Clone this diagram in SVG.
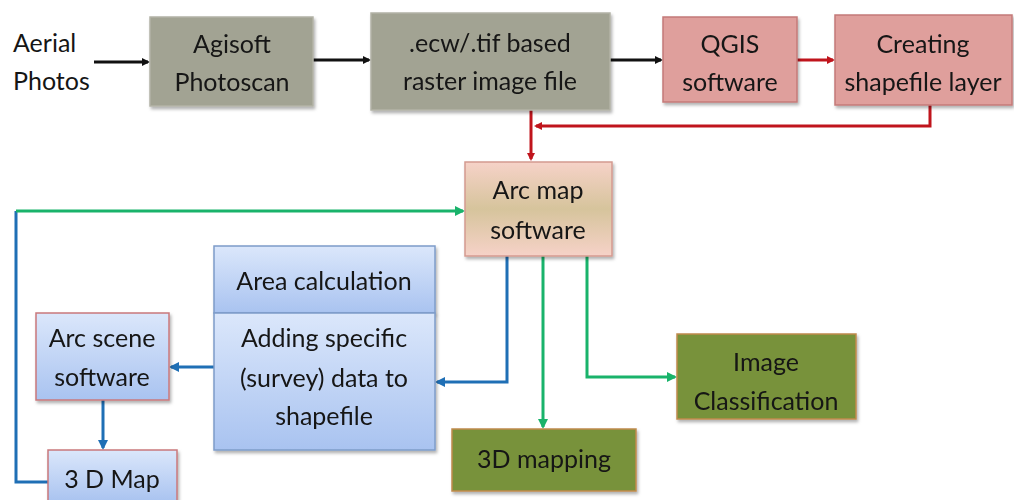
<svg xmlns="http://www.w3.org/2000/svg" width="1014" height="500" viewBox="0 0 1014 500">
<defs>
<style>
text{font-family:Lato,"Open Sans","Liberation Sans",sans-serif;font-size:25px;fill:#151515;text-anchor:middle}
.gray{fill:#a2a393;stroke:#b3b3a6;stroke-width:1.5}
.red{fill:#df9f9c;stroke:#c47a78;stroke-width:1.5}
.arc{fill:url(#gArc);stroke:#d49a90;stroke-width:1.5}
.blue{fill:url(#gBlue);stroke:#7e9cc9;stroke-width:1.5}
.bluer{fill:url(#gBlue);stroke:#c9787c;stroke-width:1.5}
.green{fill:#78923a;stroke:#c08a4c;stroke-width:1.5}
.k{stroke:#111;stroke-width:3;fill:none}
.r{stroke:#c0141c;stroke-width:3;fill:none}
.g{stroke:#19b36b;stroke-width:3;fill:none}
.b{stroke:#1f6fb5;stroke-width:3;fill:none}
</style>
<linearGradient id="gArc" x1="0" y1="0" x2="0" y2="1">
<stop offset="0" stop-color="#f6d2c8"/><stop offset="0.5" stop-color="#d6c49c"/><stop offset="1" stop-color="#f6d2c8"/>
</linearGradient>
<linearGradient id="gBlue" x1="0" y1="0" x2="0" y2="1">
<stop offset="0" stop-color="#dbe7fb"/><stop offset="1" stop-color="#a9c3f0"/>
</linearGradient>
<filter id="sh" x="-10%" y="-10%" width="130%" height="130%">
<feDropShadow dx="1.5" dy="2.5" stdDeviation="1.5" flood-color="#000" flood-opacity="0.3"/>
</filter>
<marker id="mk" markerWidth="8" markerHeight="8" refX="6" refY="4" orient="auto" markerUnits="userSpaceOnUse"><path d="M0,0 L8,4 L0,8 Z" fill="#111"/></marker>
<marker id="mr" markerWidth="8" markerHeight="8" refX="6" refY="4" orient="auto" markerUnits="userSpaceOnUse"><path d="M0,0 L8,4 L0,8 Z" fill="#c0141c"/></marker>
<marker id="mg" markerWidth="10" markerHeight="10" refX="8" refY="5" orient="auto" markerUnits="userSpaceOnUse"><path d="M0,0 L10,5 L0,10 Z" fill="#19b36b"/></marker>
<marker id="mb" markerWidth="10" markerHeight="10" refX="8" refY="5" orient="auto" markerUnits="userSpaceOnUse"><path d="M0,0 L10,5 L0,10 Z" fill="#1f6fb5"/></marker>
</defs>
<rect width="1014" height="500" fill="#fff"/>

<g id="connectors">
<path class="k" d="M94,62 H148" marker-end="url(#mk)"/>
<path class="k" d="M313,60 H369" marker-end="url(#mk)"/>
<path class="k" d="M610,60 H661" marker-end="url(#mk)"/>
<path class="r" d="M797,60 H833" marker-end="url(#mr)"/>
<path class="r" d="M930,105 V126 H536" marker-end="url(#mr)"/>
<path class="r" d="M531,110 V159" marker-end="url(#mr)"/>
<path class="b" d="M48,482 H16 V211"/>
<path class="g" d="M16,211 H463" marker-end="url(#mg)"/>
<path class="b" d="M507,256 V382 H437" marker-end="url(#mb)"/>
<path class="g" d="M543,256 V427" marker-end="url(#mg)"/>
<path class="g" d="M587,256 V377 H675" marker-end="url(#mg)"/>
<path class="b" d="M214,367 H171" marker-end="url(#mb)"/>
<path class="b" d="M103,400 V448" marker-end="url(#mb)"/>
</g>

<g id="aerial">
<text x="13" y="52" style="text-anchor:start">Aerial</text>
<text x="13" y="90" style="text-anchor:start">Photos</text>
</g>
<g id="agisoft" filter="url(#sh)">
<rect class="gray" x="150" y="17" width="163" height="89"/>
<text x="232" y="53">Agisoft</text>
<text x="232" y="91">Photoscan</text>
</g>
<g id="raster" filter="url(#sh)">
<rect class="gray" x="371" y="13" width="239" height="97"/>
<text x="490" y="52">.ecw/.tif based</text>
<text x="490" y="90">raster image file</text>
</g>
<g id="qgis" filter="url(#sh)">
<rect class="red" x="663" y="17" width="134" height="85"/>
<text x="730" y="53">QGIS</text>
<text x="730" y="91">software</text>
</g>
<g id="creating" filter="url(#sh)">
<rect class="red" x="835" y="15" width="177" height="90"/>
<text x="923" y="53">Creating</text>
<text x="923" y="91">shapefile layer</text>
</g>
<g id="arcmap" filter="url(#sh)">
<rect class="arc" x="465" y="162" width="147" height="94"/>
<text x="538" y="199">Arc map</text>
<text x="538" y="239">software</text>
</g>
<g id="area" filter="url(#sh)">
<rect class="blue" x="214" y="246" width="221" height="67"/>
<text x="324" y="290">Area calculation</text>
</g>
<g id="adding" filter="url(#sh)">
<rect class="blue" x="214" y="313" width="221" height="137"/>
<text x="324" y="347">Adding specific</text>
<text x="324" y="387">(survey) data to</text>
<text x="324" y="425">shapefile</text>
</g>
<g id="arcscene" filter="url(#sh)">
<rect class="bluer" x="36" y="313" width="133" height="87"/>
<text x="102" y="347">Arc scene</text>
<text x="102" y="386">software</text>
</g>
<g id="map3d" filter="url(#sh)">
<rect class="bluer" x="48" y="450" width="129" height="52"/>
<text x="112" y="488">3 D Map</text>
</g>
<g id="mapping3d" filter="url(#sh)">
<rect class="green" x="452" y="429" width="184" height="62"/>
<text x="544" y="468">3D mapping</text>
</g>
<g id="imgclass" filter="url(#sh)">
<rect class="green" x="677" y="334" width="179" height="85"/>
<text x="766" y="371">Image</text>
<text x="766" y="410">Classification</text>
</g>
</svg>
